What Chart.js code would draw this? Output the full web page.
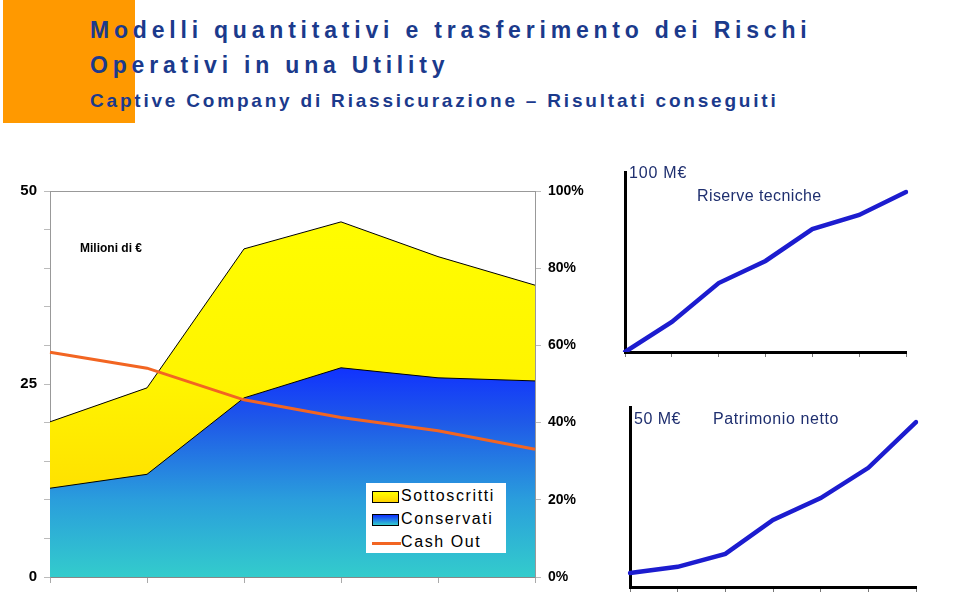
<!DOCTYPE html>
<html>
<head>
<meta charset="utf-8">
<script src="https://cdn.jsdelivr.net/npm/chart.js@4.4.1/dist/chart.umd.min.js"></script>
<style>
  html, body { margin: 0; padding: 0; background: #fff; }
  body { width: 960px; height: 593px; position: relative; overflow: hidden; font-family: "Liberation Sans", Arial, sans-serif; }
  .abs { position: absolute; }
  .title { color: #1b3a8c; font-weight: bold; line-height: 1; white-space: nowrap; }
  .note { color: #1f2f6f; font-size: 16px; line-height: 1; white-space: nowrap; }
  #legend { left: 366px; top: 483px; width: 140px; height: 70px; background: #fff; }
  .li { position: absolute; left: 6px; font-size: 16px; letter-spacing: 1.6px; line-height: 1; color: #000; white-space: nowrap; }
  .sw { position: absolute; left: 0; top: 3px; width: 25px; height: 10px; border: 1px solid #000; }
</style>
</head>
<body>
<div class="abs" style="left:3px;top:0;width:132px;height:123px;background:#ff9900;"></div>
<div class="abs title" style="left:90px;top:19px;font-size:23px;letter-spacing:4.8px;">Modelli quantitativi e trasferimento dei Rischi</div>
<div class="abs title" style="left:90px;top:54px;font-size:23px;letter-spacing:4.8px;">Operativi in una Utility</div>
<div class="abs title" style="left:90px;top:91px;font-size:19px;letter-spacing:2.8px;">Captive Company di Riassicurazione – Risultati conseguiti</div>

<div class="abs" style="left:0;top:170px;width:600px;height:423px;"><canvas id="main"></canvas></div>
<div class="abs" style="left:80px;top:242px;font-size:12px;font-weight:bold;line-height:1;">Milioni di €</div>
<div id="legend" class="abs"></div>

<div class="abs" style="left:600px;top:150px;width:330px;height:215px;"><canvas id="ris"></canvas></div>
<div class="abs note" style="left:629px;top:165px;letter-spacing:0.8px;">100 M€</div>
<div class="abs note" style="left:697px;top:188px;letter-spacing:0.4px;">Riserve tecniche</div>

<div class="abs" style="left:605px;top:395px;width:330px;height:198px;"><canvas id="pat"></canvas></div>
<div class="abs note" style="left:634px;top:411px;letter-spacing:0.5px;">50 M€</div>
<div class="abs note" style="left:713px;top:411px;letter-spacing:0.6px;">Patrimonio netto</div>

<script>
"use strict";

// main chart data (Milioni di €, Cash Out in %)
const anni = ['Anno 1', 'Anno 2', 'Anno 3', 'Anno 4', 'Anno 5', 'Anno 6'];
const sottoscritti = [20.1, 24.5, 42.5, 46.0, 41.5, 37.8];
const conservati = [11.5, 13.3, 23.2, 27.1, 25.8, 25.4];
const cashOut = [58.2, 54.1, 45.9, 41.3, 37.9, 33.1];

// small charts
const periodi = ['1', '2', '3', '4', '5', '6', '7'];
const riserveTecniche = [0, 16.7, 38.3, 50.6, 68.3, 76.1, 88.9];
const patrimonioNetto = [3.9, 5.6, 9.2, 18.6, 24.7, 33.1, 45.8];

const legendItems = ['Sottoscritti', 'Conservati', 'Cash Out'];

function gradient(chart, stops) {
  const a = chart.chartArea;
  if (!a) return null;
  const g = chart.ctx.createLinearGradient(0, a.top, 0, a.bottom);
  stops.forEach(s => g.addColorStop(s[0], s[1]));
  return g;
}

const yellowStops = [[0, '#ffff00'], [0.5, '#fff400'], [1, '#ffd200']];
const blueStops = [[0, '#0a1eff'], [0.45, '#1030ff'], [0.6, '#1f5ae8'], [0.8, '#2a9edc'], [1, '#33cccc']];

const frame = {
  id: 'frame',
  afterDatasetsDraw(chart) {
    const a = chart.chartArea, ctx = chart.ctx;
    ctx.save();
    ctx.strokeStyle = '#999';
    ctx.lineWidth = 1;
    ctx.beginPath();
    ctx.moveTo(a.left, a.top + 0.5);
    ctx.lineTo(a.right, a.top + 0.5);
    ctx.stroke();
    ctx.restore();
  }
};

new Chart(document.getElementById('main'), {
  type: 'line',
  data: {
    labels: anni,
    datasets: [
      {
        label: legendItems[0],
        data: sottoscritti,
        yAxisID: 'y',
        order: 2,
        fill: 'origin',
        borderColor: '#000',
        borderWidth: 1,
        pointRadius: 0,
        tension: 0,
        backgroundColor: c => gradient(c.chart, yellowStops),
      },
      {
        label: legendItems[1],
        data: conservati,
        yAxisID: 'y',
        order: 1,
        fill: 'origin',
        borderColor: '#000',
        borderWidth: 1,
        pointRadius: 0,
        tension: 0,
        backgroundColor: c => gradient(c.chart, blueStops),
      },
      {
        label: legendItems[2],
        data: cashOut,
        yAxisID: 'y1',
        order: 0,
        fill: false,
        borderColor: '#f26522',
        borderWidth: 3,
        pointRadius: 0,
        tension: 0,
      },
    ],
  },
  options: {
    responsive: true,
    maintainAspectRatio: false,
    animation: false,
    layout: { padding: { top: 21, left: 0, right: 0, bottom: 0 } },
    plugins: { legend: { display: false }, tooltip: { enabled: false } },
    scales: {
      x: {
        offset: false,
        grid: { drawOnChartArea: false, tickLength: 6, color: '#aaa' },
        border: { color: '#888' },
        ticks: { display: false },
        afterFit: s => { s.height = 12; },
      },
      y: {
        position: 'left',
        min: 0, max: 50,
        grid: { drawOnChartArea: false, tickLength: 6, color: '#bbb' },
        border: { color: '#999' },
        ticks: {
          stepSize: 5, padding: 7, color: '#000',
          font: { family: 'Liberation Sans', size: 15, weight: 'bold' },
          callback: v => (v % 25 === 0 ? v : ''),
        },
        afterFit: s => { s.width = 50; },
      },
      y1: {
        position: 'right',
        min: 0, max: 100,
        grid: { drawOnChartArea: false, tickLength: 6, color: '#bbb' },
        border: { color: '#999' },
        ticks: {
          stepSize: 20, padding: 7, color: '#000',
          font: { family: 'Liberation Sans', size: 14, weight: 'bold' },
          callback: v => v + '%',
        },
        afterFit: s => { s.width = 65; },
      },
    },
  },
  plugins: [frame],
});

// legend
const legend = document.getElementById('legend');
const swatches = [
  'background:linear-gradient(#ffff00,#ffd200);',
  'background:linear-gradient(#1030ff,#33cccc);',
  null,
];
legendItems.forEach((name, i) => {
  const row = document.createElement('div');
  row.className = 'li';
  row.style.top = (5 + i * 23) + 'px';
  const sw = document.createElement('div');
  if (swatches[i]) {
    sw.className = 'sw';
    sw.style.cssText += swatches[i];
  } else {
    sw.style.cssText = 'position:absolute;left:0;top:8px;width:29px;height:3px;background:#f26522;';
  }
  row.appendChild(sw);
  const t = document.createElement('span');
  t.textContent = name;
  t.style.cssText = 'position:absolute;left:29px;top:0;';
  row.appendChild(t);
  legend.appendChild(row);
});

function smallChart(id, data, max, pad, xh) {
  return new Chart(document.getElementById(id), {
    type: 'line',
    data: {
      labels: periodi,
      datasets: [{
        data: data,
        borderColor: '#1c1ccf',
        borderWidth: 4.5,
        pointRadius: 0,
        tension: 0,
        fill: false,
        borderCapStyle: 'round',
      }],
    },
    options: {
      responsive: true,
      maintainAspectRatio: false,
      animation: false,
      layout: { padding: pad },
      plugins: { legend: { display: false }, tooltip: { enabled: false } },
      scales: {
        x: {
          offset: false,
          grid: { drawOnChartArea: false, tickLength: 5, color: '#777' },
          border: { color: '#000', width: 3 },
          ticks: { display: false },
          afterFit: s => { s.height = xh; },
        },
        y: {
          min: 0, max: max,
          grid: { display: false },
          border: { color: '#000', width: 3 },
          ticks: { display: false },
          afterFit: s => { s.width = 25; },
        },
      },
    },
  });
}

smallChart('ris', riserveTecniche, 100, { top: 22, right: 24, left: 0, bottom: 0 }, 13);
smallChart('pat', patrimonioNetto, 50, { top: 12, right: 19, left: 0, bottom: 0 }, 6);
</script>
</body>
</html>
